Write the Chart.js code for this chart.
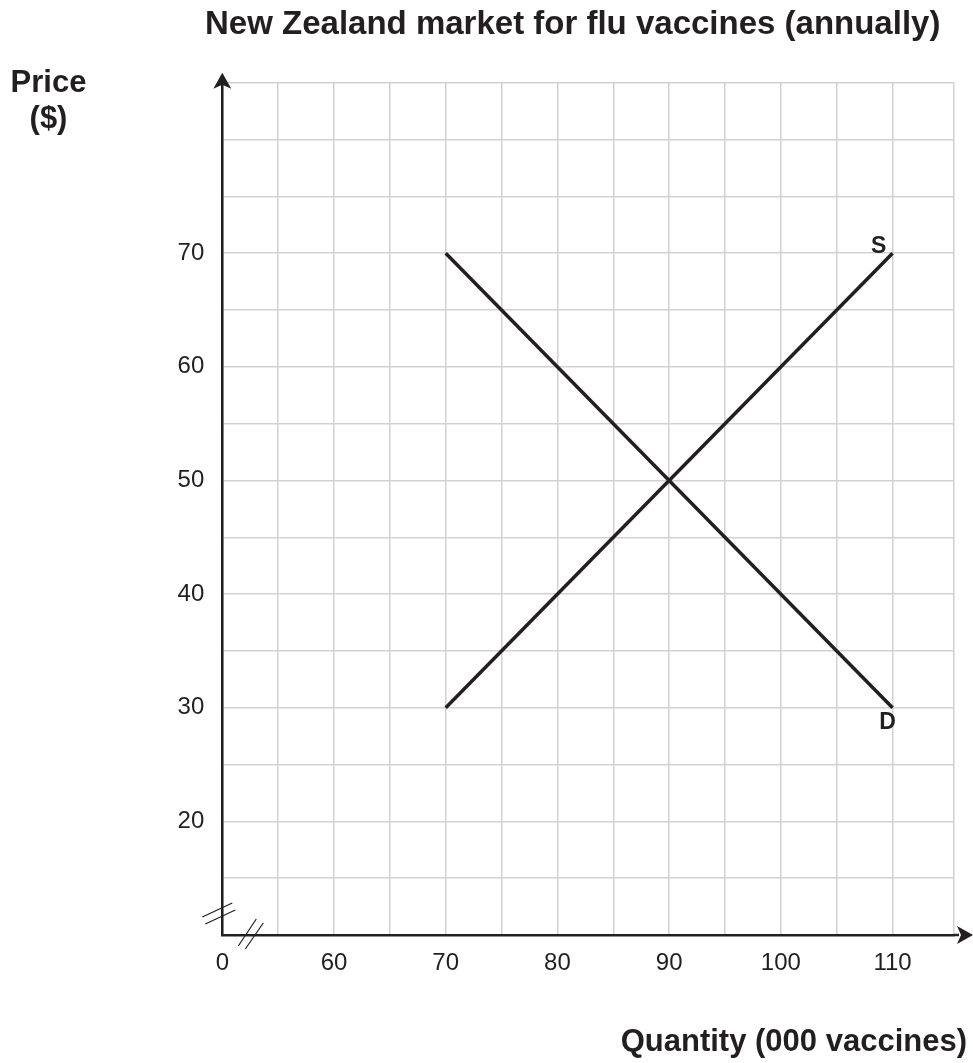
<!DOCTYPE html>
<html>
<head>
<meta charset="utf-8">
<title>New Zealand market for flu vaccines</title>
<script src="https://cdn.jsdelivr.net/npm/chart.js@4/dist/chart.umd.min.js"></script>
<style>
    html, body { margin: 0; padding: 0; background: #fff; }
    #chart { display: block; }
</style>
</head>
<body>
<canvas id="chart" width="973" height="1063"></canvas>
<script>
    'use strict';

    // data
    var quantities = [70, 110];
    var supplyPrices = [30, 70];
    var demandPrices = [70, 30];
    var curveLabels = ['S', 'D'];

    // ticks (50 stands for the broken "0" origin)
    var xTickValues = [50, 60, 70, 80, 90, 100, 110];
    var xTickLabels = ['0', '60', '70', '80', '90', '100', '110'];
    var yTickValues = [20, 30, 40, 50, 60, 70];
    var yTickLabels = ['20', '30', '40', '50', '60', '70'];

    var INK = '#231f20';
    var GRID = '#d1d1d1';
    var FONT = '"Liberation Sans", Arial, sans-serif';

    var X_MIN = 50, X_MAX = 115.5, Y_MIN = 10, Y_MAX = 85;

    function toPoints(xs, ys) {
        return xs.map(function (x, i) {
            return { x: x, y: ys[i] };
        });
    }

    function gridTicks(min, max, step) {
        var ticks = [];
        for (var v = min; v <= max; v += step) {
            ticks.push({ value: v });
        }
        if (ticks[ticks.length - 1].value !== max) {
            ticks.push({ value: max });
        }
        return ticks;
    }

    function labelFor(values, labels) {
        return function (value) {
            var i = values.indexOf(value);
            return i === -1 ? '' : labels[i];
        };
    }

    // axis arrows, break marks and the loose texts
    var decorations = {
        id: 'decorations',
        afterDraw: function (chart) {
            var ctx = chart.ctx;
            var area = chart.chartArea;
            var xScale = chart.scales.x;
            var yScale = chart.scales.y;
            var left = area.left, bottom = area.bottom;

            ctx.save();
            ctx.strokeStyle = INK;
            ctx.fillStyle = INK;

            // axis extensions
            ctx.lineWidth = 2.5;
            ctx.beginPath();
            ctx.moveTo(left, area.top);
            ctx.lineTo(left, area.top - 4);
            ctx.moveTo(area.right, bottom);
            ctx.lineTo(area.right + 5, bottom);
            ctx.stroke();

            // arrowheads
            ctx.beginPath();
            ctx.moveTo(left, area.top - 10);
            ctx.lineTo(left + 9, area.top + 6);
            ctx.lineTo(left, area.top + 2);
            ctx.lineTo(left - 9, area.top + 6);
            ctx.closePath();
            ctx.fill();

            ctx.beginPath();
            ctx.moveTo(area.right + 19, bottom);
            ctx.lineTo(area.right + 3, bottom - 9);
            ctx.lineTo(area.right + 7, bottom);
            ctx.lineTo(area.right + 3, bottom + 9);
            ctx.closePath();
            ctx.fill();

            // break marks
            ctx.lineWidth = 1.2;
            ctx.beginPath();
            ctx.moveTo(left - 20, bottom - 18);
            ctx.lineTo(left + 10, bottom - 32);
            ctx.moveTo(left - 17, bottom - 11);
            ctx.lineTo(left + 13, bottom - 25);
            ctx.moveTo(left + 16, bottom + 11);
            ctx.lineTo(left + 34, bottom - 16);
            ctx.moveTo(left + 23, bottom + 14);
            ctx.lineTo(left + 41, bottom - 12);
            ctx.stroke();

            // curve labels
            ctx.font = 'bold 23px ' + FONT;
            ctx.textAlign = 'center';
            ctx.textBaseline = 'middle';
            var sx = xScale.getPixelForValue(quantities[1]);
            ctx.fillText(curveLabels[0], sx - 14, yScale.getPixelForValue(supplyPrices[1]) - 7);
            ctx.fillText(curveLabels[1], sx - 5, yScale.getPixelForValue(demandPrices[1]) + 15);

            // titles
            ctx.textBaseline = 'alphabetic';
            ctx.font = 'bold 33px ' + FONT;
            ctx.textAlign = 'left';
            ctx.fillText('New Zealand market for flu vaccines (annually)', 205, 34);

            ctx.font = 'bold 31px ' + FONT;
            ctx.textAlign = 'center';
            ctx.fillText('Price', 48.5, 92);
            ctx.fillText('($)', 48.5, 128);

            ctx.textAlign = 'right';
            ctx.fillText('Quantity (000 vaccines)', 967, 1051);
            ctx.restore();
        }
    };

    var lineStyle = {
        showLine: true,
        borderColor: INK,
        borderWidth: 3.5,
        pointRadius: 0,
        fill: false
    };

    new Chart(document.getElementById('chart'), {
        type: 'scatter',
        data: {
            datasets: [
                Object.assign({ label: 'Supply', data: toPoints(quantities, supplyPrices) }, lineStyle),
                Object.assign({ label: 'Demand', data: toPoints(quantities, demandPrices) }, lineStyle)
            ]
        },
        options: {
            responsive: false,
            animation: false,
            layout: {
                padding: { top: 82.7, right: 19, left: 0, bottom: 0 }
            },
            plugins: {
                legend: { display: false },
                tooltip: { enabled: false }
            },
            scales: {
                x: {
                    type: 'linear',
                    min: X_MIN,
                    max: X_MAX,
                    afterBuildTicks: function (scale) {
                        scale.ticks = gridTicks(X_MIN, 110, 5).concat([{ value: X_MAX }]);
                    },
                    afterFit: function (scale) {
                        scale.height = 128;
                    },
                    grid: { color: GRID, lineWidth: 1.5, drawTicks: false },
                    border: { color: INK, width: 2.5 },
                    ticks: {
                        autoSkip: false,
                        maxRotation: 0,
                        padding: 14,
                        color: INK,
                        font: { family: FONT, size: 24 },
                        callback: labelFor(xTickValues, xTickLabels)
                    }
                },
                y: {
                    type: 'linear',
                    min: Y_MIN,
                    max: Y_MAX,
                    afterBuildTicks: function (scale) {
                        scale.ticks = gridTicks(Y_MIN, Y_MAX, 5);
                    },
                    afterFit: function (scale) {
                        scale.width = 222.3;
                    },
                    grid: { color: GRID, lineWidth: 1.5, drawTicks: false },
                    border: { color: INK, width: 2.5 },
                    ticks: {
                        autoSkip: false,
                        padding: 18,
                        color: INK,
                        font: { family: FONT, size: 24 },
                        callback: labelFor(yTickValues, yTickLabels)
                    }
                }
            }
        },
        plugins: [decorations]
    });
</script>
</body>
</html>
